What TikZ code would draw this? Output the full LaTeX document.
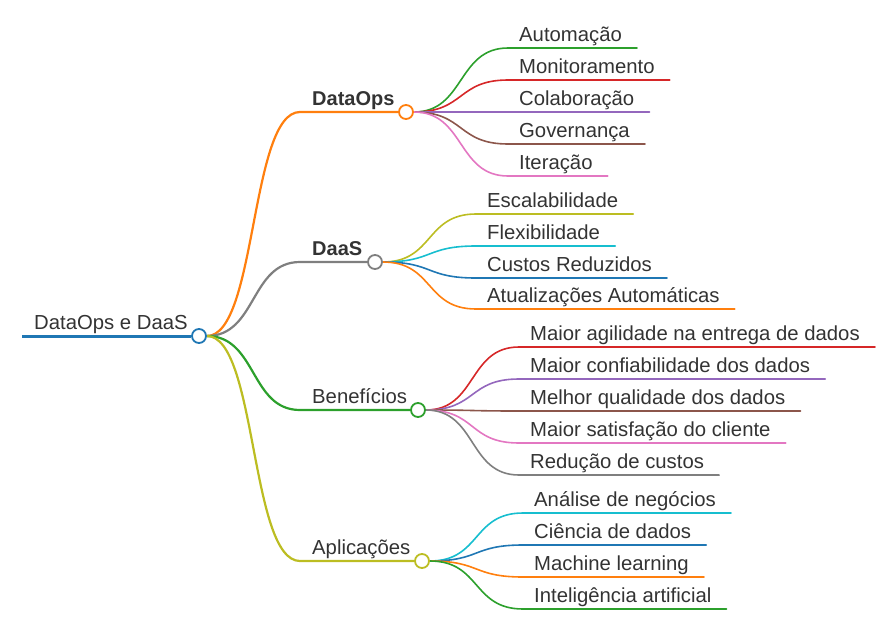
\documentclass[tikz,border=0pt]{standalone}
\usepackage{fontspec}
\setmainfont{Liberation Sans}
\usetikzlibrary{calc,backgrounds}
\definecolor{mblue}{HTML}{1F77B4}
\definecolor{morange}{HTML}{FF7F0E}
\definecolor{mgreen}{HTML}{2CA02C}
\definecolor{mred}{HTML}{D62728}
\definecolor{mpurple}{HTML}{9467BD}
\definecolor{mbrown}{HTML}{8C564B}
\definecolor{mpink}{HTML}{E377C2}
\definecolor{mgray}{HTML}{7F7F7F}
\definecolor{molive}{HTML}{BCBD22}
\definecolor{mcyan}{HTML}{17BECF}
\definecolor{textc}{HTML}{333333}
% parent, name, start x, y, colour, text
\newcommand\mmleaf[6]{%
  \coordinate (#2s) at (#3,#4);
  \node[txt] (#2) at ($(#2s)+(11,-7)$) {#6};
  \begin{scope}[on background layer]
    \draw[lvltwo=#5] (#1.east) .. controls +(51,0) and +(-51,0) .. (#2s) -- ($(#2s -| #2.east)+(15,0)$);
  \end{scope}}
\begin{document}
\begin{tikzpicture}[x=1pt,y=-1pt,
  txt/.style={anchor=base west, inner sep=0pt, text=textc, font=\fontsize{20.3}{24}\selectfont},
  btxt/.style={txt, font=\fontsize{20}{24}\selectfont\bfseries},
  dot/.style={circle, draw=#1, fill=white, line width=1.8pt, minimum size=14pt, inner sep=0pt},
  lvlzero/.style={draw=#1, line width=3pt},
  lvlone/.style={draw=#1, line width=2.2pt, line cap=round},
  lvltwo/.style={draw=#1, line width=1.6pt, line cap=round}]
\useasboundingbox (0,0) rectangle (895,632);

% root
\coordinate (r0) at (22,336);
\node[dot=mblue] (root) at (199,336) {};
\node[txt] (rootT) at (34,329) {DataOps e DaaS};
\begin{scope}[on background layer]
  \draw[lvlzero=mblue] (r0) -- (root);
\end{scope}

% branches
\coordinate (bDs) at (300,112);
\node[dot=morange] (bD) at (406,112) {};
\node[btxt] (bDt) at (312,105) {DataOps};
\coordinate (bSs) at (300,262);
\node[dot=mgray] (bS) at (375,262) {};
\node[btxt] (bSt) at (312,255) {DaaS};
\coordinate (bBs) at (300,410);
\node[dot=mgreen] (bB) at (418,410) {};
\node[txt] (bBt) at (312,403) {Benefícios};
\coordinate (bAs) at (300,561);
\node[dot=molive] (bA) at (422,561) {};
\node[txt] (bAt) at (312,554) {Aplicações};
\begin{scope}[on background layer]
  \draw[lvlone=morange] (root.east) .. controls +(50,0) and +(-50,0) .. (bDs) -- (bD);
  \draw[lvlone=mgray] (root.east) .. controls +(50,0) and +(-50,0) .. (bSs) -- (bS);
  \draw[lvlone=mgreen] (root.east) .. controls +(50,0) and +(-50,0) .. (bBs) -- (bB);
  \draw[lvlone=molive] (root.east) .. controls +(50,0) and +(-50,0) .. (bAs) -- (bA);
\end{scope}

% DataOps leaves
\mmleaf{bD}{d1}{508}{48}{mgreen}{Automação}
\mmleaf{bD}{d2}{508}{80}{mred}{Monitoramento}
\mmleaf{bD}{d3}{508}{112}{mpurple}{Colaboração}
\mmleaf{bD}{d4}{508}{144}{mbrown}{Governança}
\mmleaf{bD}{d5}{508}{176}{mpink}{Iteração}

% DaaS leaves
\mmleaf{bS}{s1}{476}{214}{molive}{Escalabilidade}
\mmleaf{bS}{s2}{476}{246}{mcyan}{Flexibilidade}
\mmleaf{bS}{s3}{476}{278}{mblue}{Custos Reduzidos}
\mmleaf{bS}{s4}{476}{309}{morange}{Atualizações Automáticas}

% Beneficios leaves
\mmleaf{bB}{e1}{519}{347}{mred}{Maior agilidade na entrega de dados}
\mmleaf{bB}{e2}{519}{379}{mpurple}{Maior confiabilidade dos dados}
\mmleaf{bB}{e3}{519}{411}{mbrown}{Melhor qualidade dos dados}
\mmleaf{bB}{e4}{519}{443}{mpink}{Maior satisfação do cliente}
\mmleaf{bB}{e5}{519}{475}{mgray}{Redução de custos}

% Aplicacoes leaves
\mmleaf{bA}{a1}{523}{513}{mcyan}{Análise de negócios}
\mmleaf{bA}{a2}{523}{545}{mblue}{Ciência de dados}
\mmleaf{bA}{a3}{523}{577}{morange}{Machine learning}
\mmleaf{bA}{a4}{523}{609}{mgreen}{Inteligência artificial}
\end{tikzpicture}
\end{document}
